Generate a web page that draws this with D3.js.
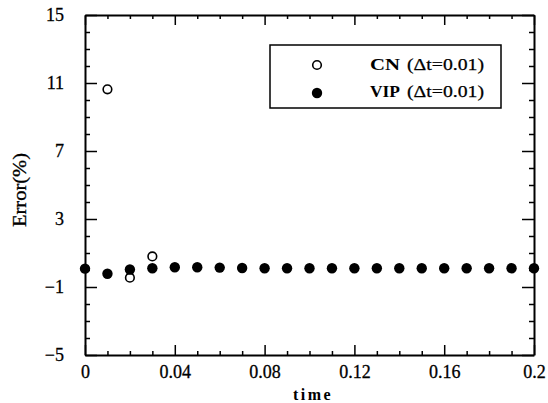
<!DOCTYPE html>
<html>
<head>
<meta charset="utf-8">
<script src="https://cdn.jsdelivr.net/npm/d3@7"></script>
<style>
  body { margin: 0; background: #fff; }
  svg { display: block; }
  text { font-family: 'Liberation Serif', 'Times New Roman', serif; }
</style>
</head>
<body>
<svg id="chart" width="548" height="403"></svg>
<script>
const width = 548;
const height = 403;
const margin = { top: 15, right: 14, bottom: 48, left: 85 };

// values
const vipTime = [0, 0.01, 0.02, 0.03, 0.04, 0.05, 0.06, 0.07, 0.08, 0.09, 0.1,
  0.11, 0.12, 0.13, 0.14, 0.15, 0.16, 0.17, 0.18, 0.19, 0.2];
const vipError = [0.08, -0.22, 0.03, 0.1, 0.16, 0.16, 0.14, 0.12, 0.1, 0.1, 0.1,
  0.1, 0.1, 0.1, 0.1, 0.1, 0.1, 0.1, 0.1, 0.1, 0.1];
const cnTime = [0.01, 0.02, 0.03];
const cnError = [10.63, -0.45, 0.8];

const xTicks = [0, 0.04, 0.08, 0.12, 0.16, 0.2];
const xTickLabels = ['0', '0.04', '0.08', '0.12', '0.16', '0.2'];
const xMinor = [0.01, 0.02, 0.03, 0.05, 0.06, 0.07, 0.09, 0.1, 0.11, 0.13, 0.14, 0.15, 0.17, 0.18, 0.19];
const yTicks = [-5, -1, 3, 7, 11, 15];
const yMinor = [-4, -3, -2, 0, 1, 2, 4, 5, 6, 8, 9, 10, 12, 13, 14];

const legendLabels = ['CN', 'VIP'];
const legendSub = '(\u0394t=0.01)';

const svg = d3.select('#chart');

const x = d3.scaleLinear()
  .domain([0, 0.2])
  .range([margin.left, width - margin.right]);

const y = d3.scaleLinear()
  .domain([-5, 15])
  .range([height - margin.bottom, margin.top]);

const styleAxis = g => {
  g.select('.domain').attr('stroke', '#000').attr('stroke-width', 2);
  g.selectAll('.tick line').attr('stroke', '#000').attr('stroke-width', 1.5);
  g.selectAll('.tick text')
    .attr('fill', '#000')
    .attr('stroke', '#000')
    .attr('stroke-width', 0.3)
    .attr('font-size', 18)
    .attr('font-family', "'Liberation Serif', serif");
};

// bottom
svg.append('g')
  .attr('transform', `translate(0,${y(-5)})`)
  .call(d3.axisBottom(x).tickValues(xTicks)
    .tickFormat((d, i) => xTickLabels[i])
    .tickSize(-10).tickSizeOuter(0).tickPadding(10))
  .call(styleAxis);
svg.append('g')
  .attr('transform', `translate(0,${y(-5)})`)
  .call(d3.axisBottom(x).tickValues(xMinor).tickFormat('').tickSize(-4))
  .call(styleAxis)
  .call(g => g.select('.domain').remove());

// top
svg.append('g')
  .attr('transform', `translate(0,${y(15)})`)
  .call(d3.axisTop(x).tickValues(xTicks).tickFormat('').tickSize(-10).tickSizeOuter(0))
  .call(styleAxis);
svg.append('g')
  .attr('transform', `translate(0,${y(15)})`)
  .call(d3.axisTop(x).tickValues(xMinor).tickFormat('').tickSize(-4))
  .call(styleAxis)
  .call(g => g.select('.domain').remove());

// left
svg.append('g')
  .attr('transform', `translate(${x(0)},0)`)
  .call(d3.axisLeft(y).tickValues(yTicks).tickFormat(d3.format('d'))
    .tickSize(-12).tickSizeOuter(0).tickPadding(21))
  .call(styleAxis);
svg.append('g')
  .attr('transform', `translate(${x(0)},0)`)
  .call(d3.axisLeft(y).tickValues(yMinor).tickFormat('').tickSize(-5))
  .call(styleAxis)
  .call(g => g.select('.domain').remove());

// right
svg.append('g')
  .attr('transform', `translate(${x(0.2)},0)`)
  .call(d3.axisRight(y).tickValues(yTicks).tickFormat('').tickSize(-12).tickSizeOuter(0))
  .call(styleAxis);
svg.append('g')
  .attr('transform', `translate(${x(0.2)},0)`)
  .call(d3.axisRight(y).tickValues(yMinor).tickFormat('').tickSize(-5))
  .call(styleAxis)
  .call(g => g.select('.domain').remove());

// axis titles
svg.append('text')
  .attr('x', 313)
  .attr('y', 400)
  .attr('text-anchor', 'middle')
  .attr('font-family', "'Liberation Sans', sans-serif")
  .attr('font-weight', 'bold')
  .attr('font-size', 16)
  .attr('letter-spacing', 2.5)
  .text('time');

svg.append('text')
  .attr('transform', 'translate(26,190) rotate(-90)')
  .attr('text-anchor', 'middle')
  .attr('font-size', 18)
  .attr('stroke', '#000')
  .attr('stroke-width', 0.3)
  .attr('textLength', 74)
  .attr('lengthAdjust', 'spacingAndGlyphs')
  .text('Error(%)');

// points
svg.append('g')
  .selectAll('circle')
  .data(cnTime.map((t, i) => [t, cnError[i]]))
  .join('circle')
  .attr('cx', d => x(d[0]))
  .attr('cy', d => y(d[1]))
  .attr('r', 4.3)
  .attr('fill', '#fff')
  .attr('stroke', '#000')
  .attr('stroke-width', 1.6);

svg.append('g')
  .selectAll('circle')
  .data(vipTime.map((t, i) => [t, vipError[i]]))
  .join('circle')
  .attr('cx', d => x(d[0]))
  .attr('cy', d => y(d[1]))
  .attr('r', 5.2)
  .attr('fill', '#000');

// legend
const legend = svg.append('g');
legend.append('rect')
  .attr('x', 270).attr('y', 45)
  .attr('width', 231).attr('height', 63)
  .attr('fill', '#fff')
  .attr('stroke', '#000')
  .attr('stroke-width', 1.5);

legend.append('circle')
  .attr('cx', 317).attr('cy', 65).attr('r', 4.3)
  .attr('fill', '#fff').attr('stroke', '#000').attr('stroke-width', 1.6);
legend.append('circle')
  .attr('cx', 317).attr('cy', 93).attr('r', 5.2)
  .attr('fill', '#000');

legendLabels.forEach((lab, i) => {
  const by = 70 + i * 27;
  legend.append('text')
    .attr('x', 370)
    .attr('y', by)
    .attr('font-size', 17)
    .attr('font-weight', 'bold')
    .attr('textLength', 30)
    .attr('lengthAdjust', 'spacingAndGlyphs')
    .text(lab);
  legend.append('text')
    .attr('x', 407)
    .attr('y', by)
    .attr('font-size', 16)
    .attr('stroke', '#000')
    .attr('stroke-width', 0.25)
    .attr('textLength', 77)
    .attr('lengthAdjust', 'spacingAndGlyphs')
    .text(legendSub);
});
</script>
</body>
</html>
